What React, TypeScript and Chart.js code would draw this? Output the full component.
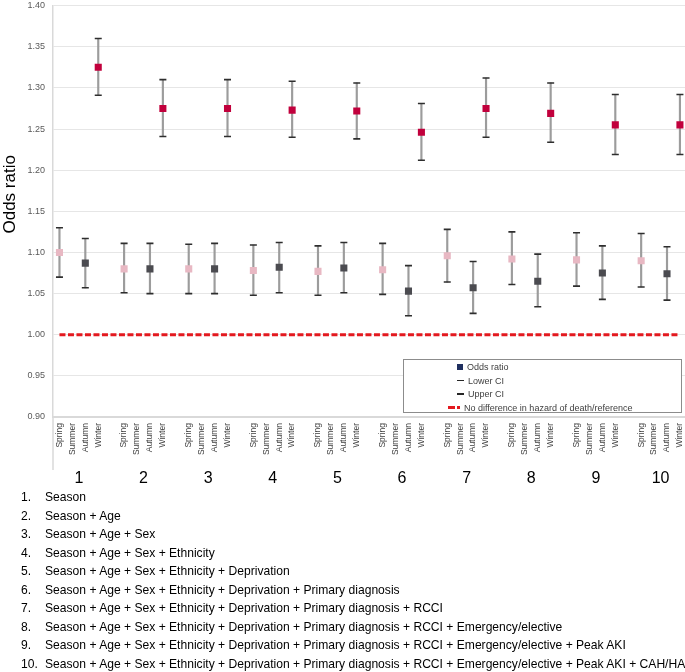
import React, { useEffect, useRef } from "react";
import { Chart, registerables } from "chart.js";

Chart.register(...registerables);

// ---------- data ----------
const GROUPS = ["1", "2", "3", "4", "5", "6", "7", "8", "9", "10"];
const SEASONS = ["Spring", "Summer", "Autumn", "Winter"];

const SPRING_OR = [1.1, 1.08, 1.08, 1.078, 1.077, 1.079, 1.096, 1.092, 1.091, 1.09];
const SPRING_LO = [1.07, 1.051, 1.05, 1.048, 1.048, 1.049, 1.064, 1.061, 1.059, 1.058];
const SPRING_HI = [1.13, 1.111, 1.11, 1.109, 1.108, 1.111, 1.128, 1.125, 1.124, 1.123];

const AUTUMN_OR = [1.087, 1.08, 1.08, 1.082, 1.081, 1.053, 1.057, 1.065, 1.075, 1.074];
const AUTUMN_LO = [1.057, 1.05, 1.05, 1.051, 1.051, 1.023, 1.026, 1.034, 1.043, 1.042];
const AUTUMN_HI = [1.117, 1.111, 1.111, 1.112, 1.112, 1.084, 1.089, 1.098, 1.108, 1.107];

const WINTER_OR = [1.325, 1.275, 1.275, 1.273, 1.272, 1.246, 1.275, 1.269, 1.255, 1.255];
const WINTER_LO = [1.291, 1.241, 1.241, 1.24, 1.238, 1.212, 1.24, 1.234, 1.219, 1.219];
const WINTER_HI = [1.36, 1.31, 1.31, 1.308, 1.306, 1.281, 1.312, 1.306, 1.292, 1.292];

const REFERENCE_OR = 1.0;
const Y_MIN = 0.9;
const Y_MAX = 1.4;
const Y_STEP = 0.05;
const Y_TITLE = "Odds ratio";

const LEGEND_LABELS = ["Odds ratio", "Lower CI", "Upper CI", "No difference in hazard of death/reference"];
const MODEL_TERMS = [
  "Season",
  "Age",
  "Sex",
  "Ethnicity",
  "Deprivation",
  "Primary diagnosis",
  "RCCI",
  "Emergency/elective",
  "Peak AKI",
  "CAH/HA",
];

// ---------- derived ----------
const SEASON_DATA: Record<string, { or: number[]; lo: number[]; hi: number[]; color: string }> = {
  Spring: { or: SPRING_OR, lo: SPRING_LO, hi: SPRING_HI, color: "#e8b8c3" },
  Autumn: { or: AUTUMN_OR, lo: AUTUMN_LO, hi: AUTUMN_HI, color: "#4b4b50" },
  Winter: { or: WINTER_OR, lo: WINTER_LO, hi: WINTER_HI, color: "#c1003c" },
};

type Slot = { group: number; season: string } | null;
const SLOTS: Slot[] = [];
GROUPS.forEach((_, gi) => {
  SEASONS.forEach((s) => SLOTS.push({ group: gi, season: s }));
  if (gi < GROUPS.length - 1) SLOTS.push(null);
});
const SLOTS_PER_GROUP = SEASONS.length + 1;
const LABELS = SLOTS.map((s) => (s ? s.season : ""));

const pick = (season: string, key: "or" | "lo" | "hi") =>
  SLOTS.map((s) => (s && s.season === season ? SEASON_DATA[season][key][s.group] : null));
const pickAny = (key: "or" | "lo" | "hi") =>
  SLOTS.map((s) => (s && SEASON_DATA[s.season] ? SEASON_DATA[s.season][key][s.group] : null));
const ciRanges = SLOTS.map((s) =>
  s && SEASON_DATA[s.season] ? [SEASON_DATA[s.season].lo[s.group], SEASON_DATA[s.season].hi[s.group]] : null
);

const FONT = "'Liberation Sans', Arial, sans-serif";

const groupLabelPlugin = {
  id: "groupLabels",
  afterDraw(chart: any) {
    const { ctx, chartArea, scales } = chart;
    const xs = scales.x;
    ctx.save();
    ctx.strokeStyle = "#d9d9d9";
    ctx.lineWidth = 1.5;
    ctx.beginPath();
    ctx.moveTo(chartArea.left, chartArea.bottom);
    ctx.lineTo(chartArea.left, chartArea.bottom + 53);
    ctx.stroke();
    ctx.fillStyle = "#000";
    ctx.font = `16px ${FONT}`;
    ctx.textAlign = "center";
    ctx.textBaseline = "middle";
    GROUPS.forEach((g, i) => {
      const start = i * SLOTS_PER_GROUP;
      const px = (xs.getPixelForValue(start) + xs.getPixelForValue(start + SEASONS.length - 1)) / 2;
      ctx.fillText(g, px, chartArea.bottom + 62);
    });
    // y-axis title (placed slightly above the plot's middle, as in the source)
    ctx.translate(10, (chartArea.top + chartArea.bottom) / 2 - 17);
    ctx.rotate(-Math.PI / 2);
    ctx.font = `17px ${FONT}`;
    ctx.fillText(Y_TITLE, 0, 0);
    ctx.restore();
  },
};

function ChartCanvas() {
  const ref = useRef<HTMLCanvasElement | null>(null);
  useEffect(() => {
    if (!ref.current) return;
    const pointSets = ["Spring", "Autumn", "Winter"].map((season) => ({
      type: "line" as const,
      label: `Odds ratio ${season}`,
      data: pick(season, "or"),
      showLine: false,
      pointStyle: "rect",
      pointRadius: 5,
      pointBackgroundColor: SEASON_DATA[season].color,
      pointBorderColor: SEASON_DATA[season].color,
      pointBorderWidth: 0,
      order: 0,
    }));
    const capSet = (key: "lo" | "hi", label: string) => ({
      type: "line" as const,
      label,
      data: pickAny(key),
      showLine: false,
      pointStyle: "line",
      pointRadius: 3.5,
      pointBorderColor: "#2e2e2e",
      pointBorderWidth: 1.6,
      order: 1,
    });
    const chart = new Chart(ref.current, {
      type: "bar",
      data: {
        labels: LABELS,
        datasets: [
          ...pointSets,
          capSet("lo", LEGEND_LABELS[1]),
          capSet("hi", LEGEND_LABELS[2]),
          {
            type: "bar" as const,
            label: "CI range",
            data: ciRanges as any,
            backgroundColor: "#9c9c9c",
            barThickness: 1.5,
            order: 2,
          },
          {
            type: "line" as const,
            label: LEGEND_LABELS[3],
            data: LABELS.map(() => REFERENCE_OR),
            borderColor: "#e3191f",
            borderWidth: 3,
            borderDash: [6, 2.5],
            pointRadius: 0,
            order: 3,
          },
        ] as any,
      },
      options: {
        animation: false,
        responsive: true,
        maintainAspectRatio: false,
        events: [],
        layout: { padding: { top: 2.5, left: 0, right: 0, bottom: 0 } },
        plugins: { legend: { display: false }, tooltip: { enabled: false } },
        scales: {
          x: {
            grid: { display: false, drawTicks: false },
            border: { display: true, color: "#d9d9d9", width: 2 },
            ticks: {
              autoSkip: false,
              minRotation: 90,
              maxRotation: 90,
              padding: 6,
              color: "#404040",
              font: { family: FONT, size: 8.5 },
            },
            afterFit: (s: any) => {
              s.height = 73;
              s.paddingLeft = 0;
              s.paddingRight = 0;
            },
          },
          y: {
            min: Y_MIN,
            max: Y_MAX,
            ticks: {
              stepSize: Y_STEP,
              padding: 8,
              color: "#595959",
              font: { family: FONT, size: 9 },
              callback: (v: any) => Number(v).toFixed(2),
            },
            grid: { color: "#e6e6e6", drawTicks: false, lineWidth: 1 },
            border: { display: true, color: "#d9d9d9", width: 1.5 },
            title: { display: false },
            afterFit: (s: any) => {
              s.width = 53;
              s.paddingTop = 0;
              s.paddingBottom = 0;
            },
          },
        },
      } as any,
      plugins: [groupLabelPlugin],
    });
    return () => chart.destroy();
  }, []);
  return <canvas ref={ref} />;
}

function LegendMarker({ idx }: { idx: number }) {
  if (idx === 0)
    return <span style={{ display: "inline-block", width: 6, height: 6, background: "#1f2f5f" }} />;
  if (idx === 3)
    return (
      <span style={{ display: "inline-flex", alignItems: "center", gap: 2 }}>
        <span style={{ display: "inline-block", width: 7, height: 3, background: "#e3191f" }} />
        <span style={{ display: "inline-block", width: 3, height: 3, background: "#e3191f" }} />
      </span>
    );
  return <span style={{ display: "inline-block", width: 7, height: 1.5, background: "#262626" }} />;
}

export default function App() {
  return (
    <div style={{ position: "absolute", left: 0, top: 0, width: 685, height: 672, background: "#fff", overflow: "hidden" }}>
      <div style={{ position: "absolute", left: 0, top: 0, width: 692, height: 490 }}>
        <ChartCanvas />
      </div>
      <div
        style={{
          position: "absolute",
          left: 403,
          top: 359,
          width: 279,
          height: 54,
          border: "1px solid #8c8c8c",
          background: "#fff",
          fontFamily: FONT,
          fontSize: 9,
          color: "#404040",
          boxSizing: "border-box",
        }}
      >
        {LEGEND_LABELS.map((l, i) => (
          <div
            key={l}
            style={{
              position: "absolute",
              left: i === 3 ? 44 : 53,
              top: 1 + i * 13.5,
              height: 12,
              display: "flex",
              alignItems: "center",
              gap: 4,
              whiteSpace: "nowrap",
            }}
          >
            <LegendMarker idx={i} />
            <span>{l}</span>
          </div>
        ))}
      </div>
      <div style={{ position: "absolute", left: 0, top: 488, width: 685, fontFamily: FONT, fontSize: 12.1, color: "#000" }}>
        {MODEL_TERMS.map((_, i) => (
          <div key={i} style={{ position: "relative", height: 18.5, lineHeight: "18.5px", whiteSpace: "nowrap" }}>
            <span style={{ position: "absolute", left: 21 }}>{`${i + 1}.`}</span>
            <span style={{ position: "absolute", left: 45 }}>{MODEL_TERMS.slice(0, i + 1).join(" + ")}</span>
          </div>
        ))}
      </div>
    </div>
  );
}
